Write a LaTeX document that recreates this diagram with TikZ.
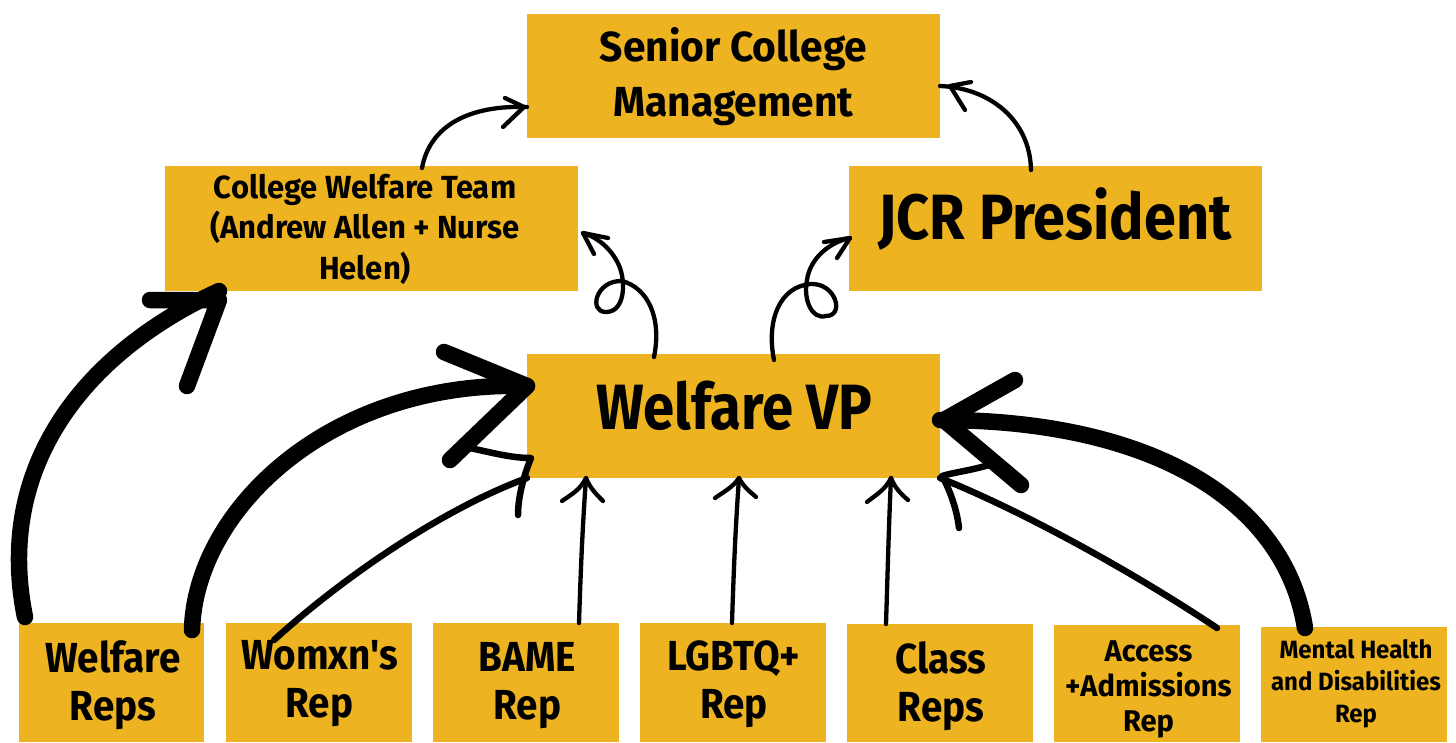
\documentclass[tikz,border=0pt]{standalone}
\usepackage{fontspec}
\newfontfamily\fsVP{Fira Sans}[FakeStretch=0.88]
\newfontfamily\fsJCR{Fira Sans}[FakeStretch=0.90]
\newfontfamily\fsBot{Fira Sans}[FakeStretch=0.92]
\newfontfamily\fsTop{Fira Sans}[FakeStretch=0.97]
\newfontfamily\fsMH{Fira Sans}[FakeStretch=0.96]
\newfontfamily\fsAcc{Fira Sans}[FakeStretch=0.97]
\definecolor{boxyellow}{RGB}{237,179,33}
\tikzset{
  box/.style={fill=boxyellow, draw=none, inner sep=0pt, outer sep=0pt},
  txt/.style={align=center, inner sep=0pt, text=black},
  brush/.style={draw=black, line width=16.5pt, line cap=round, line join=round},
  marker/.style={draw=black, line width=6.5pt, line cap=round, line join=round},
  pen/.style={draw=black, line width=4.3pt, line cap=round, line join=round},
}
\newcommand{\fs}[3]{#1\fontsize{#2}{#3}\selectfont\bfseries}
\begin{document}
\begin{tikzpicture}[x=1pt,y=-1pt]
\useasboundingbox (0,0) rectangle (1456,742);
% boxes
\node[box, minimum width=413pt, minimum height=124pt] (scm) at (733.5,76) {};
\node[box, minimum width=413pt, minimum height=125pt] (cwt) at (371.5,228.5) {};
\node[box, minimum width=413pt, minimum height=125pt] (jcr) at (1055.5,228.5) {};
\node[box, minimum width=413pt, minimum height=124pt] (vp) at (733.5,416) {};
\node[box, minimum width=185pt, minimum height=119pt] (wr) at (111.5,682.5) {};
\node[box, minimum width=186pt, minimum height=119pt] (wom) at (319,682.5) {};
\node[box, minimum width=186pt, minimum height=119pt] (bame) at (526,682.5) {};
\node[box, minimum width=186pt, minimum height=119pt] (lgb) at (732.5,682.5) {};
\node[box, minimum width=186pt, minimum height=118pt] (cls) at (940,683) {};
\node[box, minimum width=186pt, minimum height=117pt] (acc) at (1147,683.5) {};
\node[box, minimum width=186pt, minimum height=115pt] (mh) at (1354,684.5) {};
% texts
\node[txt, font=\fs{\fsTop}{42}{55}] (scmT) at (733.5,77) {Senior College\\Management};
\node[txt, font=\fs{\fsTop}{32}{40.5}] (cwtT) at (365,229) {College Welfare Team\\(Andrew Allen + Nurse\\Helen)};
\node[txt, font=\fs{\fsJCR}{64}{70}] (jcrT) at (1055,219) {JCR President};
\node[txt, font=\fs{\fsVP}{64}{70}] (vpT) at (734.5,406) {Welfare VP};
\node[txt, font=\fs{\fsBot}{42}{48}] (wrT) at (113,685) {Welfare\\Reps};
\node[txt, font=\fs{\fsBot}{42}{48}] (womT) at (319.5,684) {Womxn's\\Rep};
\node[txt, font=\fs{\fsBot}{42}{48}] (bameT) at (527.5,686) {BAME\\Rep};
\node[txt, font=\fs{\fsBot}{42}{48}] (lgbT) at (734,684) {LGBTQ+\\Rep};
\node[txt, font=\fs{\fsBot}{42}{48}] (clsT) at (941,686) {Class\\Reps};
\node[txt, font=\fs{\fsAcc}{30}{35}] (accT) at (1148.5,689) {Access\\+Admissions\\Rep};
\node[txt, font=\fs{\fsMH}{25}{32}] (mhT) at (1356,683.5) {Mental Health\\and Disabilities\\Rep};
% connectors
% Welfare Reps -> College Welfare Team
\draw[brush] (wr.north -| 25,0) ++(0,-6) .. controls (-5,470) and (80,355) .. (cwt.south -| 219,0) ++(0,9)
  coordinate (t1);
\draw[brush] (150,300) -- (t1) -- (187,386);
% Welfare Reps -> Welfare VP
\draw[brush] (wr.north -| 192,0) ++(0,7) .. controls (195,510) and (330,380) .. (vp.west |- 0,386) coordinate (t2);
\draw[brush] (444,352) -- (t2) -- (450,460);
% Womxn's Rep -> Welfare VP
\draw[marker] (wom.north -| 274,0) ++(0,17) .. controls (340,580) and (440,510) .. (vp.south west) ++(4,-20) coordinate (t3);
\draw[marker] (465,447) .. controls (490,452) and (510,458) .. (t3) .. controls (522,480) and (518,500) .. (518,515);
% BAME Rep -> Welfare VP
\draw[pen] (bame.north -| 579,0) .. controls (581,560) and (583,520) .. (vp.south -| 586,0) coordinate (t4);
\draw[pen] (562,501) .. controls (572,494) and (580,490) .. (t4) .. controls (590,488) and (596,494) .. (603,501);
% LGBTQ+ Rep -> Welfare VP
\draw[pen] (lgb.north -| 732,0) .. controls (734,560) and (736,520) .. (vp.south -| 739,0) coordinate (t5);
\draw[pen] (715,498) .. controls (725,491) and (733,487) .. (t5) .. controls (743,486) and (749,491) .. (756,497);
% Class Reps -> Welfare VP
\draw[pen] (cls.north -| 886,0) .. controls (888,560) and (889,520) .. (vp.south -| 891,0) coordinate (t6);
\draw[pen] (867,502) .. controls (877,494) and (885,490) .. (t6) .. controls (895,488) and (901,494) .. (908,500);
% Access -> Welfare VP
\draw[marker] (acc.north -| 1217,0) ++(0,3) .. controls (1130,570) and (1020,510) .. (vp.south east) ++(2,-2) coordinate (t7);
\draw[marker] (995,463) .. controls (975,470) and (955,472) .. (t7) .. controls (950,490) and (957,510) .. (959,528);
% Mental Health -> Welfare VP
\draw[brush] (mh.north -| 1305,0) ++(0,1) .. controls (1285,500) and (1150,420) .. (vp.east |- 0,420) ++(4,0) coordinate (t8);
\draw[brush] (1015,380) -- (t8) -- (1021,485);
% Welfare VP -> College Welfare Team (loop)
\draw[pen] (vp.north -| 654,0) ++(0,3) .. controls (662,318) and (648,288) .. (622,281)
  .. controls (596,280) and (588,312) .. (606,312)
  .. controls (624,312) and (626,285) .. (620,268)
  .. controls (614,252) and (600,238) .. (583,233) coordinate (t9);
\draw[pen] (608,238) -- (t9) -- (594,254);
% Welfare VP -> JCR President (loop)
\draw[pen] (vp.north -| 774,0) ++(0,6) .. controls (766,320) and (780,286) .. (811,284)
  .. controls (836,283) and (845,316) .. (826,316)
  .. controls (812,320) and (803,300) .. (807,280)
  .. controls (810,258) and (830,242) .. (850,238) coordinate (t10);
\draw[pen] (824,242) -- (t10) -- (837,258);
% College Welfare Team -> Senior College Management
\draw[pen] (cwt.north -| 422,0) ++(0,2) .. controls (430,125) and (470,105) .. (scm.west |- 0,107) ++(-3,0) coordinate (t11);
\draw[pen] (505,98) -- (t11) -- (503,127);
% JCR President -> Senior College Management
\draw[pen] (jcr.north -| 1031,0) ++(0,4) .. controls (1030,120) and (990,88) .. (scm.east |- 0,86) ++(10,0) coordinate (t12);
\draw[pen] (971,82) -- (t12) -- (965,110);
\end{tikzpicture}
\end{document}
